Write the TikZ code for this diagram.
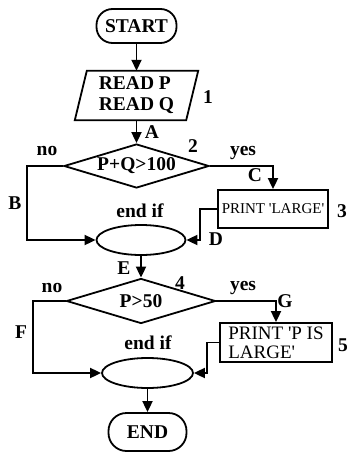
\documentclass[tikz,border=0pt]{standalone}
\usepackage{fontspec}
\setmainfont{Liberation Serif}
\usetikzlibrary{shapes.geometric,arrows.meta}
\begin{document}
\begin{tikzpicture}[x=1pt,y=-1pt,
  every node/.style={font=\fontsize{19.5}{21}\selectfont\bfseries},
  flow/.style={line width=1.8pt},
  arr/.style={flow,-{Triangle[length=11pt,width=10pt]}},
  lbl/.style={inner sep=0pt},
  term/.style={draw,line width=1.8pt,rounded corners=16pt,minimum width=80pt,minimum height=34pt,inner sep=0pt},
  dec/.style={draw,diamond,aspect=3.4,line width=1.8pt,inner sep=0pt},
  joinnode/.style={draw,ellipse,line width=1.8pt,minimum width=89pt,minimum height=30pt,inner sep=0pt},
  proc/.style={draw,rectangle,line width=1.8pt,inner sep=0pt,font=\fontsize{15}{17}\selectfont}]
\useasboundingbox (0,0) rectangle (350,452);
\fill[white] (0,0) rectangle (350,452);

% nodes
\node[term] (start) at (136.5,26) {START};
\node[minimum width=111pt,minimum height=49pt,inner sep=0pt,align=left] (read) at (136.5,95.5) {READ P\\READ Q};
\draw[flow] ([xshift=6pt]read.north west) -- ([xshift=6pt]read.north east) -- ([xshift=-6pt]read.south east) -- ([xshift=-6pt]read.south west) -- cycle;
\node[dec,minimum width=145pt,minimum height=44pt] (d1) at (136.5,166) {P+Q>100};
\node[proc,minimum width=110pt,minimum height=38pt] (p1) at (273,209) {PRINT \textquotesingle LARGE\textquotesingle};
\node[joinnode] (e1) at (141,240) {};
\node[dec,minimum width=149pt,minimum height=45pt,aspect=3.3] (d2) at (141,301) {P>50};
\node[proc,minimum width=112pt,minimum height=39pt,align=left,font=\fontsize{19}{19}\selectfont] (p2) at (276,342.5) {PRINT \textquotesingle P IS\\LARGE\textquotesingle};
\node[joinnode,minimum width=91pt] (e2) at (147.5,373) {};
\node[term,minimum width=78pt,minimum height=38pt,rounded corners=18pt] (end) at (147.5,432) {END};

% connectors
\draw[arr] (start.south) -- (start.south |- read.north);
\draw[arr] (read.south) -- (d1.north);
\draw[arr] (d1.east) -| (p1.north);
\draw[arr] (d1.west) -- ++(-36pt,0) |- (e1.west);
\draw[arr] (p1.west) -- ++(-17pt,0) |- (e1.east);
\draw[arr] (e1.south) -- (d2.north);
\draw[arr] (d2.east) -| (p2.north);
\draw[arr] (d2.west) -- ++(-33pt,0) |- (e2.west);
\draw[arr] (p2.west) -- ++(-12pt,0) |- (e2.east);
\draw[arr] (e2.south) -- (end.north);

% labels
\node[lbl] (l1) at (208,97) {1};
\node[lbl] (lA) at (152,132) {A};
\node[lbl] (l2) at (193,146) {2};
\node[lbl] (lno1) at (47,151) {no};
\node[lbl] (lyes1) at (243,153) {yes};
\node[lbl] (lC) at (255,175) {C};
\node[lbl] (lB) at (15,203) {B};
\node[lbl] (lend1) at (140,211) {end if};
\node[lbl] (l3) at (342,211) {3};
\node[lbl] (lD) at (216,239) {D};
\node[lbl] (lE) at (124,268) {E};
\node[lbl] (l4) at (180,283) {4};
\node[lbl] (lno2) at (52,288) {no};
\node[lbl] (lyes2) at (243,288) {yes};
\node[lbl] (lG) at (285,301) {G};
\node[lbl] (lF) at (21,332) {F};
\node[lbl] (lend2) at (148,343) {end if};
\node[lbl] (l5) at (343,345) {5};
\end{tikzpicture}
\end{document}
